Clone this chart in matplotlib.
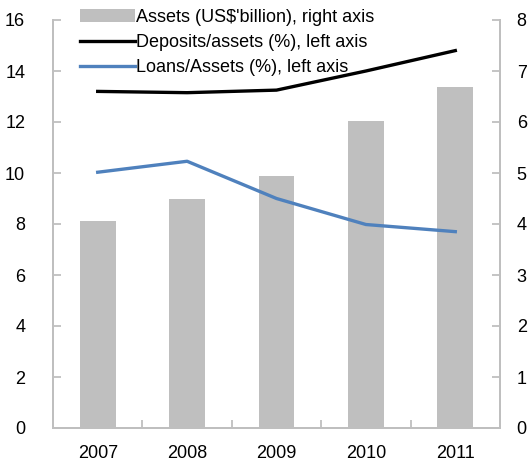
import matplotlib.pyplot as plt
import numpy as np

plt.rcParams['font.family'] = ['Liberation Sans', 'DejaVu Sans']

years = ['2007', '2008', '2009', '2010', '2011']
assets = [4.05, 4.5, 4.95, 6.02, 6.68]          # US$ billion, right axis
deposits = [13.2, 13.15, 13.25, 14.0, 14.8]     # %, left axis
loans = [10.03, 10.46, 9.0, 7.98, 7.7]          # %, left axis

fig = plt.figure(figsize=(5.29, 4.66), dpi=100)
ax = fig.add_axes([53/529, 1 - 428/466, 447/529, 408/466])
ax2 = ax.twinx()

x = np.arange(len(years))
b = ax2.bar(x, assets, width=0.4, color='#BFBFBF', label="Assets (US$'billion), right axis")
l1, = ax.plot(x, deposits, color='black', lw=2.4, label='Deposits/assets (%), left axis')
l2, = ax.plot(x, loans, color='#4F81BD', lw=2.4, label='Loans/Assets (%), left axis')

# lines on top of bars
ax.set_zorder(ax2.get_zorder() + 1)
ax.patch.set_visible(False)

ax.set_xlim(-0.5, 4.5)
ax.set_ylim(0, 16)
ax.set_yticks(range(0, 17, 2))
ax2.set_ylim(0, 8)
ax2.set_yticks(range(0, 9))

ax.set_xticks(x)
ax.set_xticklabels(years)
ax.set_xticks(np.arange(0.5, 4.5, 1), minor=True)

grey = '#BFBFBF'
for a in (ax, ax2):
    a.spines['top'].set_visible(False)
    for s in ('left', 'right', 'bottom'):
        a.spines[s].set_color(grey)
        a.spines[s].set_linewidth(1.3)
ax.tick_params(axis='x', which='major', length=0, labelsize=13, pad=12)
ax.tick_params(axis='x', which='minor', direction='in', length=6, color=grey, width=1.3)
ax.tick_params(axis='y', direction='in', length=6, color=grey, width=1.3, labelsize=13, pad=20)
ax2.tick_params(axis='y', direction='in', length=6, color=grey, width=1.3, labelsize=13, pad=12)

ax.legend([b, l1, l2], [b.get_label(), l1.get_label(), l2.get_label()],
          loc='upper left', bbox_to_anchor=(0.045, 1.045), frameon=False,
          fontsize=13, handlelength=3.0, handletextpad=0.1, labelspacing=0.45,
          borderaxespad=0)

fig.savefig('out.png', dpi=100)
